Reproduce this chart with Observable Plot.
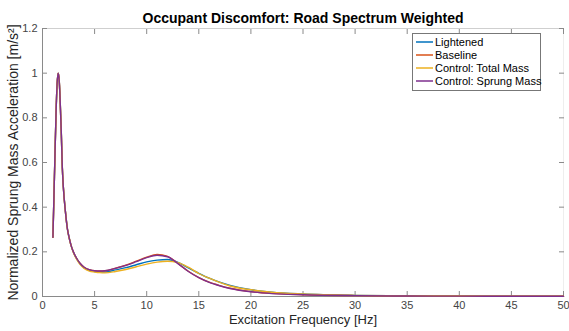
<!DOCTYPE html>
<html><head><meta charset="utf-8">
<script src="https://cdn.jsdelivr.net/npm/d3@7"></script>
<script src="https://cdn.jsdelivr.net/npm/@observablehq/plot@0.6"></script>
<style>
body{margin:0;background:#fff;}
#chart{width:569px;height:331px;font-family:"Liberation Sans",Arial,sans-serif;}
</style>
</head><body><div id="chart"></div>
<script>
const title = "Occupant Discomfort: Road Spectrum Weighted";
const xLabel = "Excitation Frequency [Hz]";
const yLabel = "Normalized Sprung Mass Acceleration [m/s²]";
const seriesNames = ["Lightened", "Baseline", "Control: Total Mass", "Control: Sprung Mass"];
const seriesColors = ["#0072BD", "#D95319", "#EDB120", "#7E2F8E"];
const xTicks = [0, 5, 10, 15, 20, 25, 30, 35, 40, 45, 50];
const yTicks = [0, 0.2, 0.4, 0.6, 0.8, 1, 1.2];

const freq = [1.0, 1.1, 1.2, 1.3, 1.4, 1.5, 1.6, 1.7, 1.8, 1.9, 2.0, 2.2, 2.4, 2.6, 2.8, 3.0, 3.3, 3.6, 4.0, 4.5,
  5, 5.5, 6, 7, 8, 9, 10, 11, 12, 13, 14, 15, 16, 17, 18, 20, 22, 25, 30, 35, 40, 45, 50];
const lightened = [0.265, 0.45, 0.64, 0.82, 0.95, 1.0, 0.97, 0.87, 0.74, 0.58, 0.49, 0.38, 0.30, 0.255, 0.22, 0.195, 0.167, 0.146, 0.128, 0.117,
  0.112, 0.110, 0.110, 0.119, 0.129, 0.142, 0.155, 0.163, 0.166, 0.153, 0.128, 0.104, 0.082, 0.064, 0.050, 0.030, 0.019, 0.011, 0.005, 0.003, 0.002, 0.0015, 0.001];
const baseline = [0.265, 0.45, 0.64, 0.82, 0.95, 1.0, 0.97, 0.87, 0.74, 0.58, 0.49, 0.38, 0.30, 0.255, 0.22, 0.196, 0.169, 0.149, 0.131, 0.120,
  0.115, 0.114, 0.115, 0.127, 0.140, 0.158, 0.176, 0.188, 0.180, 0.148, 0.113, 0.085, 0.064, 0.049, 0.037, 0.022, 0.014, 0.008, 0.004, 0.002, 0.0015, 0.001, 0.001];
const controlTotal = [0.265, 0.45, 0.64, 0.82, 0.95, 1.0, 0.97, 0.87, 0.74, 0.58, 0.49, 0.38, 0.30, 0.254, 0.219, 0.193, 0.165, 0.144, 0.126, 0.114,
  0.110, 0.107, 0.106, 0.112, 0.121, 0.133, 0.145, 0.154, 0.158, 0.152, 0.131, 0.103, 0.082, 0.063, 0.047, 0.030, 0.019, 0.011, 0.005, 0.003, 0.002, 0.0015, 0.001];
const controlSprung = [0.265, 0.45, 0.64, 0.82, 0.95, 1.0, 0.97, 0.87, 0.74, 0.58, 0.49, 0.38, 0.30, 0.255, 0.22, 0.196, 0.169, 0.149, 0.131, 0.120,
  0.115, 0.114, 0.115, 0.126, 0.139, 0.156, 0.174, 0.185, 0.178, 0.147, 0.112, 0.084, 0.063, 0.048, 0.036, 0.021, 0.013, 0.008, 0.004, 0.002, 0.0015, 0.001, 0.001];

const seriesValues = [lightened, baseline, controlTotal, controlSprung];
const rows = [];
seriesNames.forEach((name, i) => freq.forEach((f, j) => rows.push({series: name, f, v: seriesValues[i][j]})));

const font = '"Liberation Sans", Arial, sans-serif';
const axisGrey = "#8a8a8a";

const chart = Plot.plot({
  width: 569, height: 331,
  marginLeft: 42, marginRight: 6, marginTop: 28, marginBottom: 35,
  style: {fontFamily: font, fontSize: "11px", background: "#fff", overflow: "visible"},
  x: {domain: [0, 50]},
  y: {domain: [0, 1.2]},
  color: {domain: seriesNames, range: seriesColors},
  marks: [
    Plot.frame({anchor: "top", stroke: "#cfcfcf"}),
    Plot.frame({anchor: "right", stroke: "#eeeeee"}),
    Plot.frame({anchor: "left", stroke: axisGrey}),
    Plot.frame({anchor: "bottom", stroke: axisGrey}),
    Plot.axisX({ticks: xTicks, anchor: "bottom", tickSize: 5, dy: -5, text: null, label: null, stroke: axisGrey}),
    Plot.axisX({ticks: xTicks, anchor: "top", tickSize: 5, dy: 5, text: null, label: null, stroke: axisGrey}),
    Plot.axisY({ticks: yTicks, anchor: "left", tickSize: 5, dx: 5, text: null, label: null, stroke: axisGrey}),
    Plot.axisY({ticks: yTicks, anchor: "right", tickSize: 5, dx: -5, text: null, label: null, stroke: axisGrey}),
    Plot.axisX({ticks: xTicks, anchor: "bottom", tickSize: 0, tickPadding: 5, label: null, fill: "#444", tickFormat: d => String(d)}),
    Plot.axisY({ticks: yTicks, anchor: "left", tickSize: 0, tickPadding: 5, label: null, fill: "#444", tickFormat: d => String(+d.toFixed(1))}),
    Plot.line(rows, {x: "f", y: "v", z: "series", stroke: "series", strokeWidth: 1.4, curve: "monotone-x"}),
    Plot.text([title], {frameAnchor: "top", dy: -15, fontSize: 14, fontWeight: "bold", fill: "#000"}),
    Plot.text([xLabel], {frameAnchor: "bottom", dy: 27, fontSize: 13, fill: "#262626", textAnchor: "middle"}),
    Plot.text([yLabel], {frameAnchor: "left", dx: -29, rotate: -90, fontSize: 14, fill: "#262626", textAnchor: "middle"})
  ]
});

const svg = d3.select(chart);
const color = chart.scale("color");
const lx = 412, ly = 33, lw = 128, lh = 57, rowH = 13;
const g = svg.append("g").attr("text-anchor", "start");
g.append("rect").attr("x", lx + 0.5).attr("y", ly + 0.5).attr("width", lw).attr("height", lh)
  .attr("fill", "#fff").attr("stroke", "#777").attr("stroke-width", 1);
seriesNames.forEach((name, i) => {
  const y = ly + 9 + i * rowH;
  g.append("line").attr("x1", lx + 4).attr("x2", lx + 21).attr("y1", y).attr("y2", y)
    .attr("stroke", color.apply(name)).attr("stroke-width", 1.5);
  g.append("text").attr("x", lx + 23).attr("y", y).attr("dy", "0.35em").attr("text-anchor", "start")
    .attr("font-size", 11).attr("font-family", font).attr("fill", "#000").text(name);
});

document.getElementById("chart").appendChild(chart);
</script>
</body></html>
